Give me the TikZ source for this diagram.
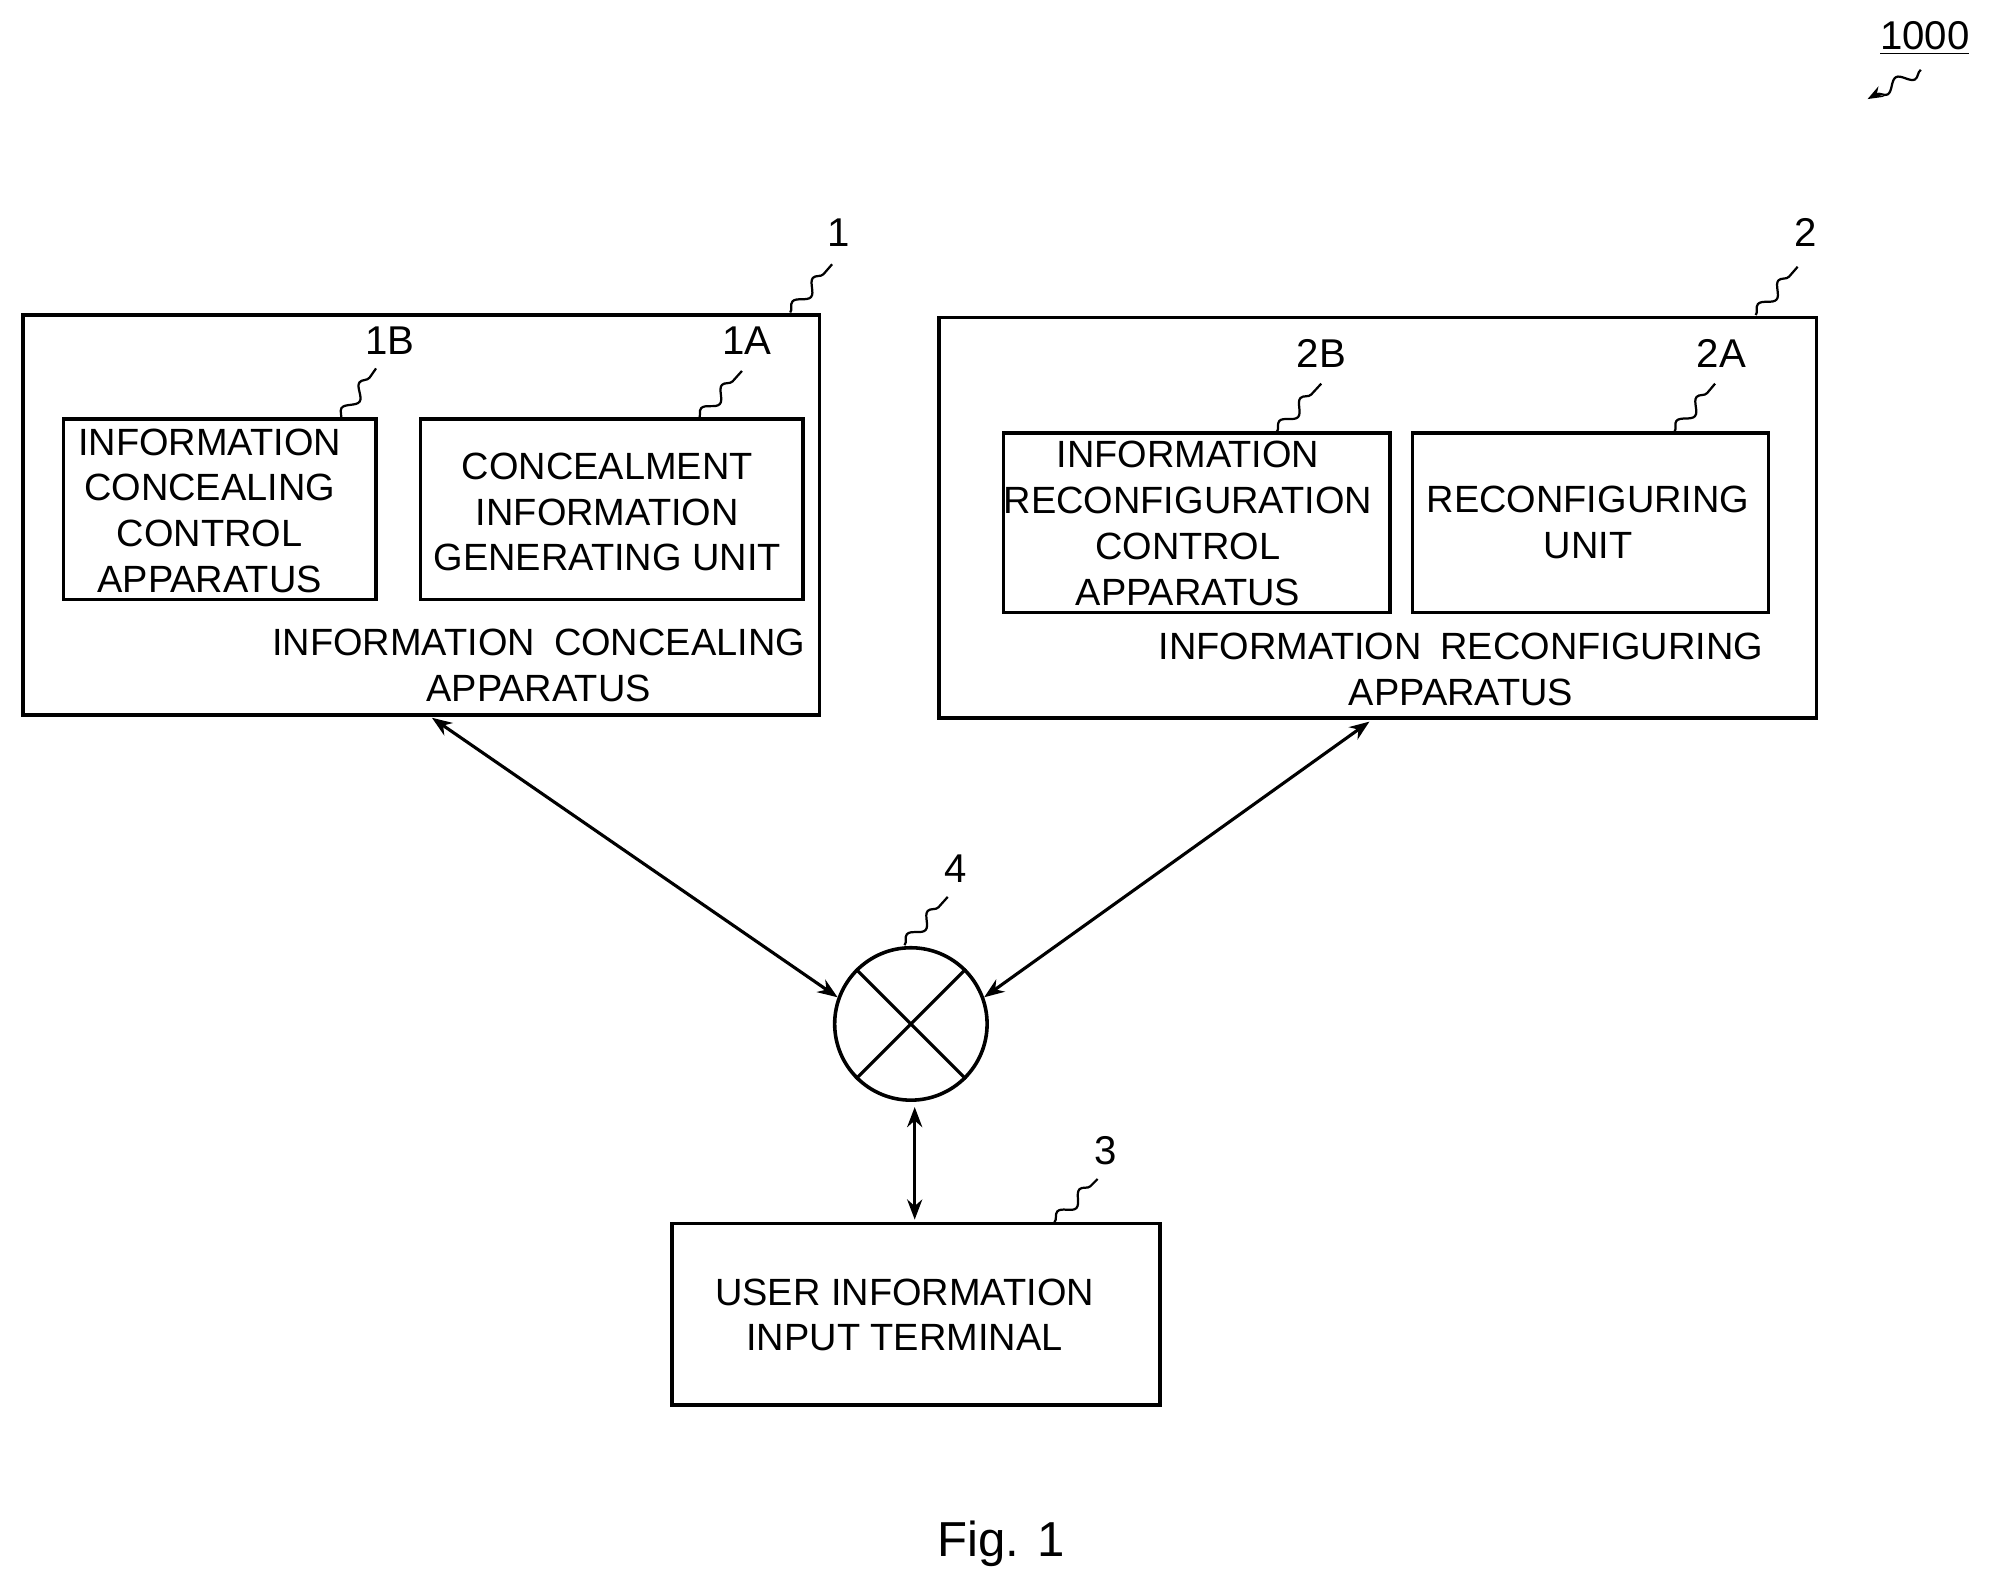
\documentclass[tikz,border=0pt]{standalone}
\usepackage{fontspec}
\setmainfont{Liberation Sans}
\usetikzlibrary{decorations.pathmorphing,arrows.meta}
\begin{document}
\begin{tikzpicture}[x=0.02cm,y=-0.02cm,
  box/.style={draw,line width=1.6pt},
  txt/.style={font=\fontsize{17}{20.5}\selectfont,align=center,inner sep=0pt},
  lbl/.style={font=\fontsize{18}{20}\selectfont,inner sep=1pt},
  sq/.style={decorate,decoration={snake,amplitude=2.5pt,segment length=14pt},line width=1pt},
  arr/.style={line width=1.4pt,{Stealth[length=9pt]}-{Stealth[length=9pt]}}]
\useasboundingbox (0,0) rectangle (1568,1250);
% box 1
\draw[box] (18,248) rectangle (645,563);
\coordinate (b1b) at (340,565);
\draw[box] (50,330) rectangle (296,472);
\node[txt] (t1b) at (165,402) {INFORMATION\\CONCEALING\\CONTROL\\APPARATUS};
\draw[box] (331,330) rectangle (632,472);
\node[txt] (t1a) at (478,403) {CONCEALMENT\\INFORMATION\\GENERATING UNIT};
\node[txt] (t1) at (424,524) {INFORMATION\enspace CONCEALING\\\hspace*{0pt}APPARATUS};
% box 2
\draw[box] (739,250) rectangle (1430,565);
\draw[box] (790,341) rectangle (1094,482);
\node[txt] (t2b) at (935,412) {INFORMATION\\RECONFIGURATION\\CONTROL\\APPARATUS};
\draw[box] (1112,341) rectangle (1392,482);
\node[txt] (t2a) at (1250,411) {RECONFIGURING\\UNIT};
\node[txt] (t2) at (1150,527) {INFORMATION\enspace RECONFIGURING\\APPARATUS};
% box 3
\draw[box] (529,963) rectangle (913,1106);
\node[txt] (t3) at (712,1035) {USER INFORMATION\\INPUT TERMINAL};
% circle 4
\node[draw,circle,line width=1.6pt,minimum size=120\pgflinewidth,inner sep=0pt,minimum size=2.4cm] (c4) at (717,806) {};
\draw[line width=1.4pt] (c4.45) -- (c4.225) (c4.135) -- (c4.315);
% arrows
\coordinate (b2b) at (1078,568);
\coordinate (b3t) at (720,960);
\draw[arr] (b1b) -- (c4.160);
\draw[arr] (b2b) -- (c4.20);
\draw[arr] (c4.south -| b3t) ++(0,4) -- (b3t);
% labels
\node[lbl] (l1) at (660,183) {1};
\draw[sq] (622,246) -- (655,208);
\node[lbl] (l2) at (1421,183) {2};
\draw[sq] (1382,248) -- (1415,210);
\node[lbl] (l1b) at (307,268) {1B};
\draw[sq] (268,330) -- (296,290);
\node[lbl] (l1a) at (588,268) {1A};
\draw[sq] (550,330) -- (584,292);
\node[lbl] (l2b) at (1040,278) {2B};
\draw[sq] (1005,340) -- (1040,302);
\node[lbl] (l2a) at (1355,278) {2A};
\draw[sq] (1318,340) -- (1350,302);
\node[lbl] (l4) at (752,684) {4};
\draw[sq] (712,744) -- (746,706);
\node[lbl] (l3) at (870,906) {3};
\draw[sq] (830,962) -- (864,928);
\node[lbl] (l1000) at (1515,30) {\underline{1000}};
\draw[sq,-{Stealth[length=7pt]}] (1512,55) -- (1470,78);
\node[font=\fontsize{22}{24}\selectfont] (fig) at (788,1215) {Fig. 1};
\end{tikzpicture}
\end{document}
